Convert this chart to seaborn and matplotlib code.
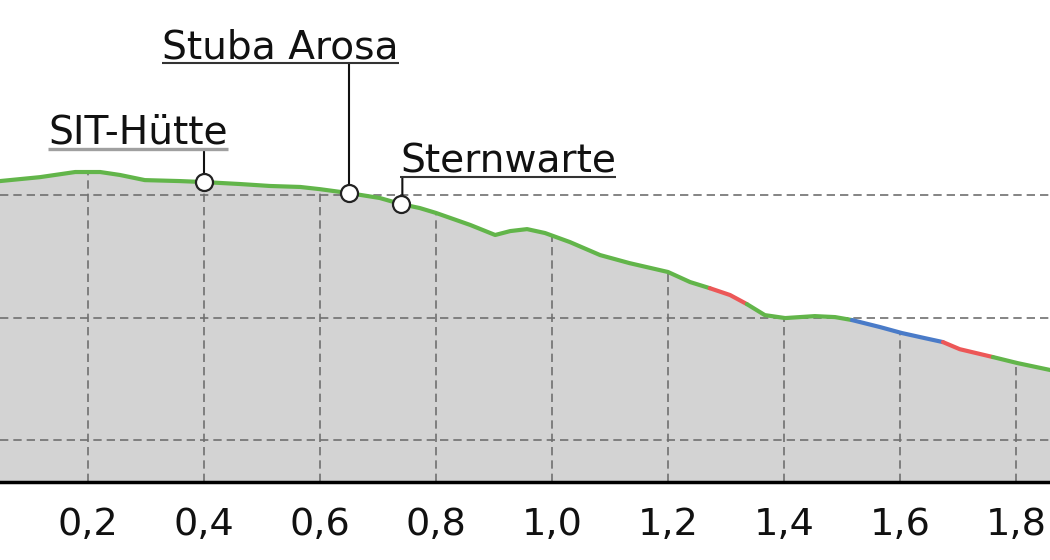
import matplotlib
matplotlib.use("Agg")
import matplotlib.pyplot as plt
import numpy as np
import pandas as pd
import seaborn as sns

# Elevation profile: distance (km) and elevation (m)
dist_km = [0.00, 0.048, 0.117, 0.178, 0.221, 0.255, 0.298, 0.359, 0.400, 0.462,
           0.514, 0.566, 0.600, 0.650, 0.703, 0.740, 0.772, 0.800, 0.859, 0.902,
           0.928, 0.957, 0.988, 1.031, 1.083, 1.134, 1.200, 1.238, 1.272, 1.307,
           1.336, 1.367, 1.402, 1.453, 1.488, 1.517, 1.566, 1.603, 1.643, 1.674,
           1.703, 1.760, 1.803, 1.859, 1.910]
elev_m = [2104.5, 2105.7, 2107.3, 2109.4, 2109.4, 2108.2, 2106.1, 2105.7, 2105.3, 2104.5,
          2103.7, 2103.3, 2102.4, 2100.8, 2098.8, 2096.3, 2094.7, 2092.7, 2087.8, 2083.7,
          2085.3, 2086.1, 2084.5, 2080.8, 2075.5, 2072.2, 2068.6, 2064.5, 2062.0, 2059.2,
          2055.5, 2051.0, 2049.8, 2050.6, 2050.2, 2049.0, 2046.1, 2043.7, 2041.6, 2040.0,
          2037.1, 2033.9, 2031.4, 2028.6, 2026.1]

# Coloured route segments
seg_start = [0.000, 1.272, 1.336, 1.517, 1.674, 1.760]
seg_end = [1.272, 1.336, 1.517, 1.674, 1.760, 1.910]
seg_type = ["trail", "steep", "trail", "road", "steep", "trail"]
seg_colors = {"trail": "#62b54a", "steep": "#ec5757", "road": "#4a7bc8"}

# Points of interest
poi_names = ["SIT-Hütte", "Stuba Arosa", "Sternwarte"]
poi_km = [0.40, 0.65, 0.74]
poi_elev = [2105.3, 2100.8, 2096.3]
label_x = [0.131, 0.328, 0.738]
label_y = [2121.2, 2155.9, 2109.4]
underline_y = [2118.8, 2153.9, 2107.3]
leader_x = [0.40, 0.65, 0.742]
underline_col = ["#a0a0a0", "#333333", "#333333"]
underline_lw = [2.4, 1.5, 1.5]

tick_km = [0.2, 0.4, 0.6, 0.8, 1.0, 1.2, 1.4, 1.6, 1.8]
tick_labels = ["0,2", "0,4", "0,6", "0,8", "1,0", "1,2", "1,4", "1,6", "1,8"]
grid_elev = [2000, 2050, 2100]

sns.set_theme(style="white")
plt.rcParams["font.family"] = ["DejaVu Sans"]

df = pd.DataFrame({"km": dist_km, "elev": elev_m})

fig = plt.figure(figsize=(10.5, 5.6), dpi=100)
ax = fig.add_axes([0, 78 / 560, 1, 482 / 560])
ax.set_xlim(0.0483, 1.8586)
ax.set_ylim(1982.9, 2179.6)

fill = ax.fill_between(df["km"], df["elev"], 1900, color="#d3d3d3", lw=0, zorder=1)

# grid
for g in grid_elev:
    ax.axhline(g, color="#707070", lw=1.2, ls=(0, (5, 3)), zorder=2)
clip = fill.get_paths()[0]
for t in tick_km:
    vl = ax.axvline(t, color="#707070", lw=1.2, ls=(0, (5, 3)), zorder=2)
    vl.set_clip_path(clip, ax.transData)

# route line
for s, e, kind in zip(seg_start, seg_end, seg_type):
    part = df[(df["km"] >= s - 1e-9) & (df["km"] <= e + 1e-9)]
    sns.lineplot(data=part, x="km", y="elev", color=seg_colors[kind], lw=3,
                 estimator=None, sort=False, ax=ax, zorder=3)

# labels, underline and leader lines
fig.canvas.draw()
inv = ax.transData.inverted()
for i, name in enumerate(poi_names):
    txt = ax.text(label_x[i], label_y[i], name, fontsize=28.2, color="#111111",
                  ha="left", va="baseline", zorder=6, clip_on=False)
    bb = txt.get_window_extent(renderer=fig.canvas.get_renderer())
    x0 = inv.transform((bb.x0, 0))[0]
    x1 = inv.transform((bb.x1, 0))[0]
    ax.plot([x0, x1], [underline_y[i], underline_y[i]], color=underline_col[i],
            lw=underline_lw[i], solid_capstyle="butt", zorder=5, clip_on=False)
    ax.plot([leader_x[i], leader_x[i], poi_km[i]],
            [underline_y[i], poi_elev[i] + 1.5, poi_elev[i]],
            color="#111111", lw=1.5, zorder=4)

sns.scatterplot(x=poi_km, y=poi_elev, s=150, color="white", edgecolor="#222222",
                linewidth=1.6, ax=ax, zorder=7)

ax.set_xticks(tick_km)
ax.set_xticklabels(tick_labels, fontsize=27.5, color="#111111")
ax.set_yticks([])
ax.tick_params(axis="x", length=0, pad=18)
ax.set_xlabel("")
ax.set_ylabel("")
for side in ["top", "left", "right"]:
    ax.spines[side].set_visible(False)
ax.spines["bottom"].set_color("black")
ax.spines["bottom"].set_linewidth(2.5)
ax.spines["bottom"].set_zorder(8)

fig.savefig("out.png", dpi=100)
